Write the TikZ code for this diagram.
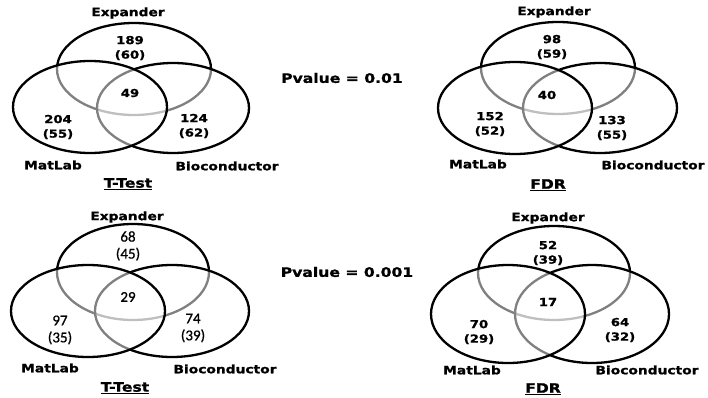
\documentclass[tikz,border=0pt]{standalone}
\usepackage{fontspec}
\newfontfamily\lblfont[FakeStretch=1.2, FakeBold=1.2]{DejaVu Sans}
\newfontfamily\calfont[FakeBold=0.8]{Carlito}

\begin{document}
\begin{tikzpicture}[x=1pt, y=-1pt,
  set/.style={line width=2.3pt, fill=white, fill opacity=0.5, draw opacity=1},
  lbl/.style={font=\lblfont\bfseries\fontsize{11.5}{12}\selectfont},
  ttl/.style={font=\lblfont\bfseries\fontsize{13}{14}\selectfont},
  num/.style={align=center, inner sep=0pt, font=\lblfont\bfseries\fontsize{11}{14.5}\selectfont},
  numb/.style={align=center, inner sep=0pt, font=\calfont\fontsize{15}{17}\selectfont}]

  \useasboundingbox[fill=white] (0,0) rectangle (708,398);

  % -- Pvalue = 0.01, T-Test --
  \draw[set] (134,69) ellipse [x radius=77pt, y radius=46pt];
  \draw[set] (173,108) ellipse [x radius=76pt, y radius=45pt];
  \draw[set] (90,107) ellipse [x radius=77pt, y radius=46pt];
  \node[lbl] (expA) at (128,13) {Expander};
  \node[lbl] (matA) at (53,165) {MatLab};
  \node[lbl] (bioA) at (227,166) {Bioconductor};
  \node[ttl] (ttA) at (128,184) {\underline{T-Test}};
  \node[num] (eA) at (130,48) {189\\(60)};
  \node[num] (cA) at (130,93) {49};
  \node[num] (mA) at (58,127) {204\\(55)};
  \node[num] (bA) at (194,126) {124\\(62)};

  % -- Pvalue = 0.01, FDR --
  \draw[set] (558,68) ellipse [x radius=77pt, y radius=46pt];
  \draw[set] (600,108) ellipse [x radius=77pt, y radius=45pt];
  \draw[set] (515,108) ellipse [x radius=77pt, y radius=46pt];
  \node[lbl] (expB) at (554,12) {Expander};
  \node[lbl] (matB) at (478,164) {MatLab};
  \node[lbl] (bioB) at (653,165) {Bioconductor};
  \node[ttl] (fdrB) at (548,185) {\underline{FDR}};
  \node[num] (eB) at (552,47) {98\\(59)};
  \node[num] (cB) at (547,95) {40};
  \node[num] (mB) at (490,124) {152\\(52)};
  \node[num] (bB) at (612,128) {133\\(55)};

  % -- Pvalues --
  \node[ttl] (pv1) at (342,78) {Pvalue = 0.01};
  \node[ttl] (pv2) at (347,272) {Pvalue = 0.001};

  % -- Pvalue = 0.001, T-Test --
  \draw[set] (133,272) ellipse [x radius=76pt, y radius=48pt];
  \draw[set] (172,311) ellipse [x radius=77pt, y radius=46pt];
  \draw[set] (88,311) ellipse [x radius=77pt, y radius=46pt];
  \node[lbl] (expC) at (127,217) {Expander};
  \node[lbl] (matC) at (50,368) {MatLab};
  \node[lbl] (bioC) at (225,369) {Bioconductor};
  \node[ttl] (ttC) at (125,388) {\underline{T-Test}};
  \node[numb] (eC) at (128,246) {68\\(45)};
  \node[numb] (cC) at (128,297) {29};
  \node[numb] (mC) at (60,330) {97\\(35)};
  \node[numb] (bC) at (193,328) {74\\(39)};

  % -- Pvalue = 0.001, FDR --
  \draw[set] (554,273) ellipse [x radius=76pt, y radius=47pt];
  \draw[set] (592,314) ellipse [x radius=77pt, y radius=49pt];
  \draw[set] (508,314) ellipse [x radius=77pt, y radius=49pt];
  \node[lbl] (expD) at (548,218) {Expander};
  \node[lbl] (matD) at (472,370) {MatLab};
  \node[lbl] (bioD) at (647,370) {Bioconductor};
  \node[ttl] (fdrD) at (543,389) {\underline{FDR}};
  \node[num] (eD) at (548,253) {52\\(39)};
  \node[num] (cD) at (548,302) {17};
  \node[num] (mD) at (479,332) {70\\(29)};
  \node[num] (bD) at (620,330) {64\\(32)};

\end{tikzpicture}
\end{document}
